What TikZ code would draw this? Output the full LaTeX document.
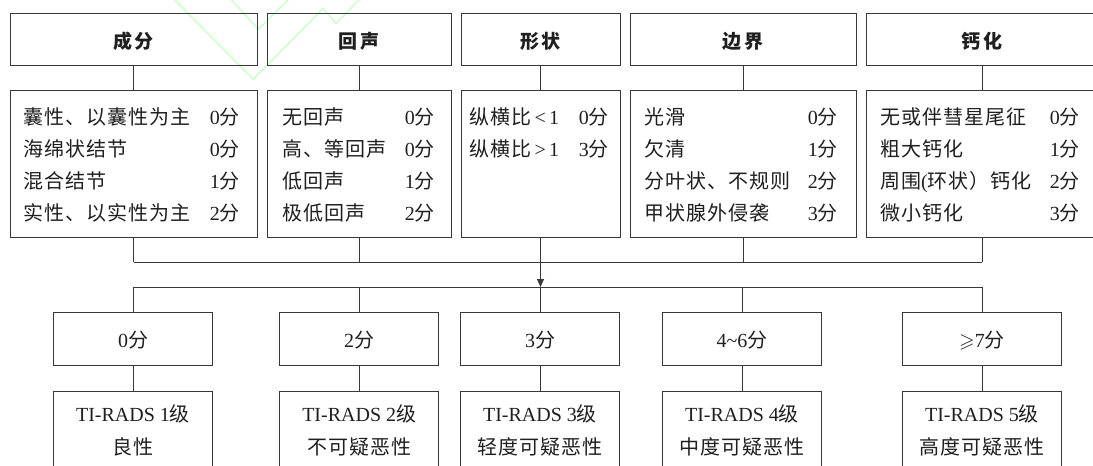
\documentclass[tikz,border=0pt]{standalone}
\usepackage{amssymb}
\usepackage{fontspec}
\setmainfont{Liberation Serif}
\newfontfamily\cjk[LetterSpace=5]{Noto Sans CJK SC}
\newfontfamily\cjkhd{Noto Sans CJK SC}
\usetikzlibrary{arrows.meta}
\definecolor{lc}{gray}{0.22}
\definecolor{tc}{gray}{0.12}
\definecolor{wm}{RGB}{200,255,200}
\newcommand\zh[1]{{\cjk #1}}
\newcommand\rowitem[6]{%
  \node[txt,anchor=base west] (#1a) at (#3,#2) {#5};
  \node[txt,anchor=base east] (#1b) at (#4,#2) {#6};}
\begin{document}
\begin{tikzpicture}[x=1pt,y=-1pt,
  box/.style={draw=lc,line width=1pt,inner sep=0pt,rectangle},
  hdbox/.style={box,minimum height=52pt,text height=19.5pt,text depth=0pt,
    font=\fontsize{19}{22}\selectfont\cjkhd\bfseries,text=tc},
  detbox/.style={box,minimum height=147pt},
  scorebox/.style={box,minimum width=159pt,minimum height=52.5pt,text height=16pt,text depth=0pt,
    font=\fontsize{20}{24}\selectfont,text=tc},
  gradebox/.style={box,minimum width=159pt,minimum height=100pt,anchor=north},
  txt/.style={font=\fontsize{20}{24}\selectfont,text=tc,inner sep=0pt},
  conn/.style={draw=lc,line width=1pt},
]
\useasboundingbox (0,0) rectangle (1093,466);
\clip (0,0) rectangle (1093,466);

% faint watermark lines
\draw[wm,line width=1.3pt] (170,-5) -- (253.3,79.3) -- (323.3,8.3) -- (336,23.3) -- (361,-2);
\draw[wm,line width=1.3pt] (227,-5) -- (258.3,29.3) -- (291,-3);

% header boxes
\node[hdbox,minimum width=247pt] (h1) at (133.5,39) {成\kern3pt 分};
\node[hdbox,minimum width=184pt] (h2) at (359,39) {回\kern3pt 声};
\node[hdbox,minimum width=159pt] (h3) at (540.5,39) {形\kern3pt 状};
\node[hdbox,minimum width=226pt] (h4) at (743,39) {边\kern3pt 界};
\node[hdbox,minimum width=232pt] (h5) at (982,39) {钙\kern3pt 化};

% detail boxes
\node[detbox,minimum width=247pt] (d1) at (133.5,163.5) {};
\node[detbox,minimum width=184pt] (d2) at (359,163.5) {};
\node[detbox,minimum width=159pt] (d3) at (540.5,163.5) {};
\node[detbox,minimum width=226pt] (d4) at (743,163.5) {};
\node[detbox,minimum width=232pt] (d5) at (982,163.5) {};

% detail rows
\rowitem{ra1}{124.3}{23}{240}{\zh{囊性、以囊性为主}}{0\zh{分}}
\rowitem{ra2}{156.2}{23}{240}{\zh{海绵状结节}}{0\zh{分}}
\rowitem{ra3}{188.1}{23}{240}{\zh{混合结节}}{1\zh{分}}
\rowitem{ra4}{220.0}{23}{240}{\zh{实性、以实性为主}}{2\zh{分}}

\rowitem{rb1}{124.3}{282}{435}{\zh{无回声}}{0\zh{分}}
\rowitem{rb2}{156.2}{282}{435}{\zh{高、等回声}}{0\zh{分}}
\rowitem{rb3}{188.1}{282}{435}{\zh{低回声}}{1\zh{分}}
\rowitem{rb4}{220.0}{282}{435}{\zh{极低回声}}{2\zh{分}}

\rowitem{rc1}{124.3}{469}{609}{\zh{纵横比}\,<\,1}{0\zh{分}}
\rowitem{rc2}{156.2}{469}{609}{\zh{纵横比}\,>\,1}{3\zh{分}}

\rowitem{rd1}{124.3}{644}{838}{\zh{光滑}}{0\zh{分}}
\rowitem{rd2}{156.2}{644}{838}{\zh{欠清}}{1\zh{分}}
\rowitem{rd3}{188.1}{644}{838}{\zh{分叶状、不规则}}{2\zh{分}}
\rowitem{rd4}{220.0}{644}{838}{\zh{甲状腺外侵袭}}{3\zh{分}}

\rowitem{re1}{124.3}{880}{1080}{\zh{无或伴彗星尾征}}{0\zh{分}}
\rowitem{re2}{156.2}{880}{1080}{\zh{粗大钙化}}{1\zh{分}}
\rowitem{re3}{188.1}{880}{1080}{\zh{周围}(\zh{环状）钙化}}{2\zh{分}}
\rowitem{re4}{220.0}{880}{1080}{\zh{微小钙化}}{3\zh{分}}

% score boxes
\node[scorebox] (s1) at (133,339) {0\zh{分}};
\node[scorebox] (s2) at (359.2,339) {2\zh{分}};
\node[scorebox] (s3) at (540,339) {3\zh{分}};
\node[scorebox] (s4) at (742,339) {4\textasciitilde 6\zh{分}};
\node[scorebox] (s5) at (982,339) {$\geqslant$7\zh{分}};

% grade boxes (cut by the lower edge)
\node[gradebox] (g1) at (133,390.5) {};
\node[gradebox] (g2) at (359.2,390.5) {};
\node[gradebox] (g3) at (540,390.5) {};
\node[gradebox] (g4) at (742,390.5) {};
\node[gradebox] (g5) at (982,390.5) {};
\node[txt,anchor=base] (g1a) at (133,421) {TI-RADS 1\zh{级}};
\node[txt,anchor=base] (g1b) at (133,454) {\zh{良性}};
\node[txt,anchor=base] (g2a) at (359.2,421) {TI-RADS 2\zh{级}};
\node[txt,anchor=base] (g2b) at (359.2,454) {\zh{不可疑恶性}};
\node[txt,anchor=base] (g3a) at (540,421) {TI-RADS 3\zh{级}};
\node[txt,anchor=base] (g3b) at (540,454) {\zh{轻度可疑恶性}};
\node[txt,anchor=base] (g4a) at (742,421) {TI-RADS 4\zh{级}};
\node[txt,anchor=base] (g4b) at (742,454) {\zh{中度可疑恶性}};
\node[txt,anchor=base] (g5a) at (982,421) {TI-RADS 5\zh{级}};
\node[txt,anchor=base] (g5b) at (982,454) {\zh{高度可疑恶性}};

% connectors
\coordinate (busA) at (0,262);
\coordinate (busB) at (0,287);
\foreach \i in {1,...,5} { \draw[conn] (h\i.south) -- (d\i.north); }
\foreach \i in {1,2,4,5} { \draw[conn] (d\i.south) -- (d\i.south |- busA); }
\draw[conn] (d1.south |- busA) -- (d5.south |- busA);
\draw[conn,-{Triangle[width=7pt,length=8pt]}] (d3.south) -- (d3.south |- busB);
\draw[conn] (s1.north |- busB) -- (s5.north |- busB);
\foreach \i in {1,...,5} {
  \draw[conn] (s\i.north |- busB) -- (s\i.north);
  \draw[conn] (s\i.south) -- (g\i.north);
}
\end{tikzpicture}
\end{document}
